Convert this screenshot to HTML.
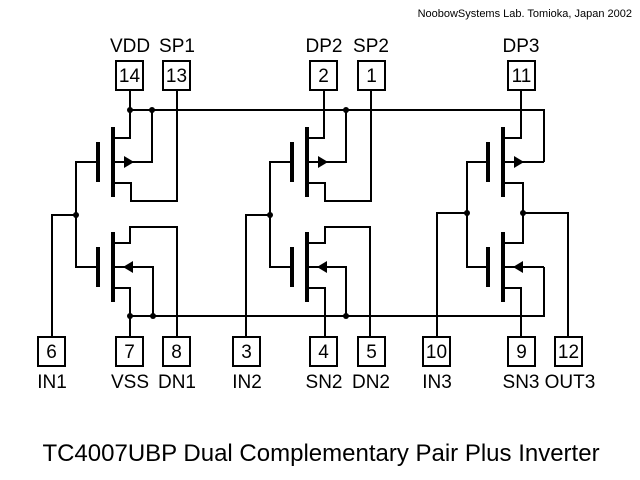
<!DOCTYPE html>
<html><head><meta charset="utf-8"><style>
html,body{margin:0;padding:0;background:#fff;}
svg{display:block;}
text{font-family:"Liberation Sans",Arial,sans-serif;fill:#000;}
</style></head><body>
<svg width="640" height="480" viewBox="0 0 640 480" xmlns="http://www.w3.org/2000/svg">
<rect width="640" height="480" fill="#fff"/>
<text x="632" y="17" font-size="11" text-anchor="end">NoobowSystems Lab. Tomioka, Japan 2002</text>
<g fill="none" stroke="#000" stroke-width="2">
<path d="M130 110 H544 V162"/>
<path d="M130 316 H544 V267"/>
<path d="M130 90 V138 H113"/>
<path d="M152 110 V162 H113"/>
<path d="M177 90 V201 H131 V183 H113"/>
<path d="M98 162 H76 V267 H98"/>
<path d="M76 215 H52 V337"/>
<path d="M113 243 H130 V227 H177 V337"/>
<path d="M113 288 H130 V337"/>
<path d="M113 267 H153 V316"/>
<path d="M324 90 V138 H307"/>
<path d="M346 110 V162 H307"/>
<path d="M371 90 V201 H325 V183 H307"/>
<path d="M292 162 H270 V267 H292"/>
<path d="M270 215 H246 V337"/>
<path d="M307 243 H325 V227 H370 V337"/>
<path d="M307 288 H325 V337"/>
<path d="M307 267 H346 V316"/>
<path d="M521 90 V138 H503"/>
<path d="M544 162 H503"/>
<path d="M503 183 H523 V243 H503"/>
<path d="M523 213 H568 V337"/>
<path d="M488 162 H467 V267 H488"/>
<path d="M467 213 H437 V337"/>
<path d="M503 288 H521 V337"/>
<path d="M503 267 H544"/>
</g>
<g stroke="#000" stroke-width="4">
<path d="M113 127 V197 M113 232 V302 M98 142 V182 M98 247 V287"/>
<path d="M307 127 V197 M307 232 V302 M292 142 V182 M292 247 V287"/>
<path d="M503 127 V197 M503 232 V302 M488 142 V182 M488 247 V287"/>
</g>
<g fill="#000">
<path d="M124 156 L134 162 L124 168Z"/><path d="M318 156 L328 162 L318 168Z"/><path d="M514 156 L524 162 L514 168Z"/>
<path d="M133 261 L123 267 L133 273Z"/><path d="M327 261 L317 267 L327 273Z"/><path d="M523 261 L513 267 L523 273Z"/>
<circle cx="130" cy="110" r="3"/><circle cx="152" cy="110" r="3"/><circle cx="346" cy="110" r="3"/>
<circle cx="130" cy="316" r="3"/><circle cx="153" cy="316" r="3"/><circle cx="346" cy="316" r="3"/>
<circle cx="76" cy="215" r="3"/><circle cx="270" cy="215" r="3"/><circle cx="467" cy="213" r="3"/><circle cx="523" cy="213" r="3"/>
</g>
<g fill="#fff" stroke="#000" stroke-width="2">
<rect x="116" y="61" width="27" height="29"/><rect x="163" y="61" width="27" height="29"/>
<rect x="310" y="61" width="27" height="29"/><rect x="358" y="61" width="27" height="29"/>
<rect x="508" y="61" width="27" height="29"/>
<rect x="38" y="337" width="27" height="29"/><rect x="116" y="337" width="27" height="29"/><rect x="163" y="337" width="27" height="29"/>
<rect x="233" y="337" width="27" height="29"/><rect x="310" y="337" width="27" height="29"/><rect x="358" y="337" width="27" height="29"/>
<rect x="423" y="337" width="27" height="29"/><rect x="508" y="337" width="27" height="29"/><rect x="555" y="337" width="27" height="29"/>
</g>
<g font-size="19" text-anchor="middle">
<text x="129.5" y="82">14</text><text x="176.5" y="82">13</text><text x="323.5" y="82">2</text><text x="371.5" y="82">1</text><text x="521.5" y="82">11</text>
<text x="51.5" y="358">6</text><text x="129.5" y="358">7</text><text x="176.5" y="358">8</text>
<text x="246.5" y="358">3</text><text x="323.5" y="358">4</text><text x="371.5" y="358">5</text>
<text x="436.5" y="358">10</text><text x="521.5" y="358">9</text><text x="568.5" y="358">12</text>
<text x="130" y="52">VDD</text><text x="177" y="52">SP1</text><text x="324" y="52">DP2</text><text x="371" y="52">SP2</text><text x="521" y="52">DP3</text>
<text x="52" y="388">IN1</text><text x="130" y="388">VSS</text><text x="177" y="388">DN1</text>
<text x="247" y="388">IN2</text><text x="324" y="388">SN2</text><text x="371" y="388">DN2</text>
<text x="437" y="388">IN3</text><text x="521" y="388">SN3</text><text x="570" y="388">OUT3</text>
</g>
<text x="321" y="461" font-size="24" text-anchor="middle">TC4007UBP Dual Complementary Pair Plus Inverter</text>
</svg>
</body></html>
